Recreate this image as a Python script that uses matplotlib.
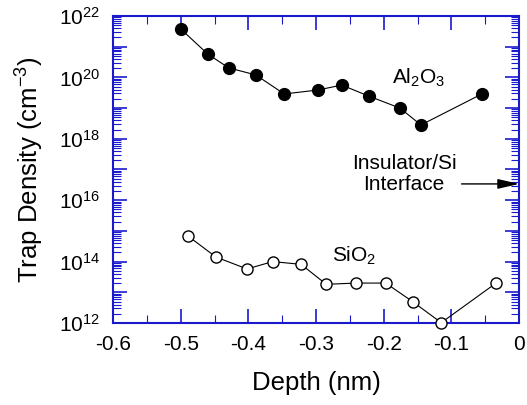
import matplotlib
matplotlib.use('Agg')
import matplotlib.pyplot as plt
import numpy as np

plt.rcParams['font.family'] = ['Liberation Sans', 'DejaVu Sans']
plt.rcParams['mathtext.fontset'] = 'custom'
plt.rcParams['mathtext.rm'] = 'Liberation Sans'
plt.rcParams['mathtext.it'] = 'Liberation Sans'
plt.rcParams['mathtext.default'] = 'regular'
plt.rcParams['axes.unicode_minus'] = False

# Данные: глубина (нм) и плотность ловушек (см^-3)
al2o3_depth = [-0.50, -0.460, -0.429, -0.389, -0.347, -0.297, -0.262, -0.222, -0.176, -0.145, -0.055]
al2o3_log = [21.58, 20.76, 20.31, 20.08, 19.46, 19.59, 19.75, 19.39, 19.0, 18.45, 19.46]

sio2_depth = [-0.489, -0.448, -0.402, -0.364, -0.322, -0.285, -0.241, -0.197, -0.157, -0.115, -0.034]
sio2_log = [14.83, 14.15, 13.76, 14.0, 13.91, 13.26, 13.30, 13.30, 12.69, 12.01, 13.30]

x_ticks = [-0.6, -0.5, -0.4, -0.3, -0.2, -0.1, 0]
x_labels = ['-0.6', '-0.5', '-0.4', '-0.3', '-0.2', '-0.1', '0']
y_exps = [12, 14, 16, 18, 20, 22]

axis_blue = '#1a1acc'

fig = plt.figure(figsize=(5.27, 4.05), dpi=100)
ax = fig.add_axes([0.2144, 0.2025, 0.985 - 0.2144, 0.9605 - 0.2025])

al_vals = 10.0 ** np.array(al2o3_log)
si_vals = 10.0 ** np.array(sio2_log)

ax.plot(al2o3_depth, al_vals, '-', color='black', linewidth=0.8, zorder=2)
ax.plot(al2o3_depth, al_vals, 'o', color='black', markersize=8.5, zorder=3)
ax.plot(sio2_depth, si_vals, '-', color='black', linewidth=0.8, zorder=2)
ax.plot(sio2_depth, si_vals, 'o', markerfacecolor='white', markeredgecolor='black',
        markeredgewidth=1.0, markersize=8, zorder=3, clip_on=False)

ax.set_yscale('log')
ax.set_xlim(-0.6, 0)
ax.set_ylim(1e12, 1e22)

# Оси
ax.set_xticks(x_ticks)
ax.set_xticklabels(x_labels)
ax.set_xticks(np.arange(-0.55, 0, 0.1), minor=True)

major_y = [10.0 ** e for e in range(12, 23)]
ax.set_yticks(major_y)
ax.set_yticklabels([r'$10^{%d}$' % e if e in y_exps else '' for e in range(12, 23)])
minor_y = [m * 10.0 ** e for e in range(12, 22) for m in range(2, 10)]
ax.set_yticks(minor_y, minor=True)
ax.yaxis.set_minor_formatter(matplotlib.ticker.NullFormatter())

ax.tick_params(which='both', direction='in', top=True, right=True, color=axis_blue,
               labelsize=15)
ax.tick_params(which='major', length=10, width=1.2)
ax.tick_params(which='minor', length=6, width=0.8)
ax.tick_params(axis='x', which='major', pad=9)
ax.tick_params(axis='y', which='major', pad=9.5)

for s in ax.spines.values():
    s.set_color(axis_blue)
    s.set_linewidth(1.5)

ax.set_xlabel('Depth (nm)', fontsize=18.5, labelpad=12)
ax.set_ylabel('Trap Density (cm$^{-3}$)', fontsize=18.5, labelpad=9)

# Подписи
ax.text(-0.149, 10 ** 20.0, r'Al$_2$O$_3$', fontsize=15, ha='center', va='center')
ax.text(-0.243, 10 ** 14.2, r'SiO$_2$', fontsize=15, ha='center', va='center')
ax.text(-0.17, 10 ** 16.85, 'Insulator/Si\nInterface', fontsize=15, ha='center', va='center',
        linespacing=1.15)
ax.annotate('', xy=(0, 10 ** 16.53), xytext=(-0.085, 10 ** 16.53),
            arrowprops=dict(arrowstyle='-|>,head_length=0.65,head_width=0.15', color='black',
                            lw=1.0, mutation_scale=20, shrinkA=0, shrinkB=0))

fig.savefig('out.png', dpi=100)
